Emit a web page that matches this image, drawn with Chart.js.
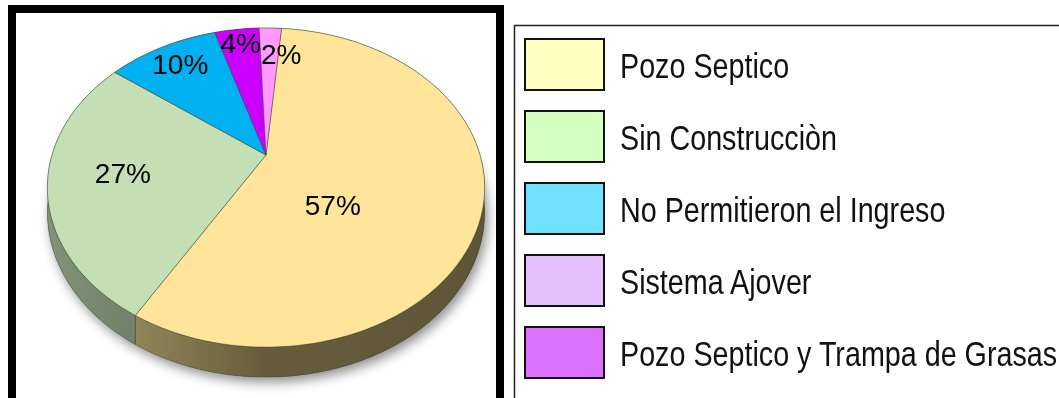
<!DOCTYPE html>
<html lang="es">
<head>
<meta charset="utf-8">
<title>Sistema de disposición de aguas residuales</title>
<script src="https://cdn.jsdelivr.net/npm/chart.js@4.4.1/dist/chart.umd.min.js"></script>
<style>
  html, body { margin: 0; padding: 0; background: #fff; overflow: hidden; }
  #wrap { position: relative; width: 1059px; height: 398px; overflow: hidden; background: #fff; }
  #pie { position: absolute; left: 0; top: 0; }
  #legend { position: absolute; left: 0; top: 0; width: 1059px; height: 398px; pointer-events: none; }
  .item { position: absolute; left: 524px; width: 700px; height: 53px; white-space: nowrap; }
  .swatch { position: absolute; left: 0; top: 0; width: 81px; height: 53px; box-sizing: border-box; border: 2px solid #111; }
  .text { position: absolute; left: 96px; top: 50%; font-size: 35px; line-height: 1; color: #111; transform-origin: left center; }
</style>
</head>
<body>
<div id="wrap">
  <canvas id="pie" width="1059" height="398"></canvas>
  <div id="legend"></div>
</div>
<script>
// ---- data ----
const categories = [
  'Pozo Septico',
  'Sin Construcciòn',
  'No Permitieron el Ingreso',
  'Sistema Ajover',
  'Pozo Septico y Trampa de Grasas'
];
const values = [57, 27, 10, 4, 2];
const sliceColors = ['#FEE599', '#C5DFB5', '#00B0F0', '#CC00FF', '#FF99FF'];
const legendColors = ['#FFFFC0', '#D2FFC0', '#70E0FF', '#E6C0FF', '#DC70FF'];

// ---- 3D view of the pie (tilt, perspective and rim height) ----
const VIEW = { tilt: 0.7145, persp: 0.204, depth: 30 };

function project(arc, angle, r = 1) {
  const u = Math.cos(angle) * r, v = Math.sin(angle) * r;
  const s = 1 / (1 - VIEW.persp * v);
  return {
    x: arc.x + arc.outerRadius * u * s,
    y: arc.y + arc.outerRadius * VIEW.tilt * v * s,
    v: v
  };
}
function rimDepth(v) {
  return VIEW.depth * (1 - VIEW.persp) / (1 - VIEW.persp * v);
}
function rimPoints(arc, a0, a1) {
  const n = Math.max(2, Math.ceil(Math.abs(a1 - a0) / (Math.PI / 180)));
  const pts = [];
  for (let i = 0; i <= n; i++) pts.push(project(arc, a0 + (a1 - a0) * i / n));
  return pts;
}
function shade(hex, f) {
  const n = parseInt(hex.slice(1), 16);
  const r = Math.round(((n >> 16) & 255) * f), g = Math.round(((n >> 8) & 255) * f), b = Math.round((n & 255) * f);
  return `rgb(${r},${g},${b})`;
}
function centroid(pts) {
  let A = 0, cx = 0, cy = 0;
  for (let i = 0; i < pts.length; i++) {
    const p = pts[i], q = pts[(i + 1) % pts.length];
    const c = p.x * q.y - q.x * p.y;
    A += c; cx += (p.x + q.x) * c; cy += (p.y + q.y) * c;
  }
  return { x: cx / (3 * A), y: cy / (3 * A) };
}

// Frame round the pie and box round the legend
const framePlugin = {
  id: 'frames',
  beforeDraw(chart) {
    const ctx = chart.ctx;
    ctx.save();
    ctx.strokeStyle = '#000';
    ctx.lineWidth = 8;
    ctx.strokeRect(12, 9, 488, 500);
    ctx.strokeStyle = '#222';
    ctx.lineWidth = 1.5;
    ctx.strokeRect(514.5, 25.5, 700, 500);
    ctx.restore();
  }
};

// Draws the pie's arcs as a tilted disc with a rim, plus the percentage labels
const pie3dPlugin = {
  id: 'pie3d',
  beforeDatasetsDraw(chart) {
    const ctx = chart.ctx;
    const meta = chart.getDatasetMeta(0);
    const arcs = meta.data;
    if (!arcs.length) return false;
    const first = arcs[0];
    const R = first.outerRadius;

    // base of the disc with its soft drop shadow
    ctx.save();
    ctx.shadowColor = 'rgba(0,0,0,0.45)';
    ctx.shadowBlur = 12;
    ctx.shadowOffsetX = 3;
    ctx.shadowOffsetY = 5;
    ctx.beginPath();
    rimPoints(first, 0, Math.PI * 2).forEach((p, i) => {
      const y = p.y + rimDepth(p.v);
      i ? ctx.lineTo(p.x, y) : ctx.moveTo(p.x, y);
    });
    ctx.closePath();
    ctx.fillStyle = '#5f5538';
    ctx.fill();
    ctx.restore();

    // rim walls
    arcs.forEach((arc) => {
      const base = arc.options.backgroundColor;
      const pts = rimPoints(arc, arc.startAngle, arc.endAngle);
      const g = ctx.createLinearGradient(arc.x - R * 1.03, 0, arc.x + R * 1.03, 0);
      g.addColorStop(0, shade(base, 0.66));
      g.addColorStop(0.2, shade(base, 0.58));
      g.addColorStop(0.5, shade(base, 0.40));
      g.addColorStop(1, shade(base, 0.37));
      ctx.beginPath();
      pts.forEach((p, k) => k ? ctx.lineTo(p.x, p.y) : ctx.moveTo(p.x, p.y));
      for (let k = pts.length - 1; k >= 0; k--) ctx.lineTo(pts[k].x, pts[k].y + rimDepth(pts[k].v));
      ctx.closePath();
      ctx.fillStyle = g;
      ctx.fill();
      ctx.strokeStyle = 'rgba(40,40,30,0.35)';
      ctx.lineWidth = 0.8;
      ctx.stroke();
    });

    // top faces
    const faces = arcs.map(arc => {
      const pts = [{ x: arc.x, y: arc.y }].concat(rimPoints(arc, arc.startAngle, arc.endAngle));
      ctx.beginPath();
      pts.forEach((p, k) => k ? ctx.lineTo(p.x, p.y) : ctx.moveTo(p.x, p.y));
      ctx.closePath();
      ctx.fillStyle = arc.options.backgroundColor;
      ctx.fill();
      ctx.strokeStyle = 'rgba(70,70,55,0.55)';
      ctx.lineWidth = 0.9;
      ctx.stroke();
      return pts;
    });

    // percentage labels: the big slice takes its label at the face's centre,
    // the others along their middle angle, further out the thinner they are
    const fontSize = 28;
    ctx.save();
    ctx.font = `${fontSize}px "Liberation Sans", Arial, sans-serif`;
    ctx.fillStyle = '#000';
    ctx.textAlign = 'center';
    ctx.textBaseline = 'middle';
    const placed = [];
    arcs.forEach((arc, i) => {
      const frac = (arc.endAngle - arc.startAngle) / (Math.PI * 2);
      const pos = frac > 0.5
        ? centroid(faces[i])
        : project(arc, (arc.startAngle + arc.endAngle) / 2, 0.88 - 0.8 * frac);
      const text = values[i] + '%';
      const w = ctx.measureText(text).width;
      let box = { x0: pos.x - w / 2, x1: pos.x + w / 2, y0: pos.y - fontSize / 2, y1: pos.y + fontSize / 2 };
      placed.forEach(b => {
        if (box.x0 < b.x1 && box.x1 > b.x0 && box.y0 < b.y1 && box.y1 > b.y0) {
          const dx = b.x1 - box.x0;
          const dy = fontSize * 0.5;
          box = { x0: box.x0 + dx, x1: box.x1 + dx, y0: box.y0 + dy, y1: box.y1 + dy };
        }
      });
      placed.push(box);
      ctx.fillText(text, (box.x0 + box.x1) / 2, (box.y0 + box.y1) / 2);
    });
    ctx.restore();
    return false;
  }
};

const chart = new Chart(document.getElementById('pie'), {
  type: 'pie',
  data: {
    labels: categories,
    datasets: [{
      data: values,
      backgroundColor: sliceColors,
      borderWidth: 0,
      radius: 214
    }]
  },
  options: {
    responsive: false,
    animation: false,
    events: [],
    rotation: 5,
    layout: { padding: { left: 0, right: 527, top: 0, bottom: 88 } },
    plugins: {
      legend: { display: false },
      tooltip: { enabled: false }
    }
  },
  plugins: [framePlugin, pie3dPlugin]
});

// ---- legend, built from the chart's labels ----
(function buildLegend() {
  const probe = document.createElement('canvas').getContext('2d');
  probe.font = '35px "Liberation Sans Narrow", monospace';
  const a = probe.measureText('Pozo Septico').width;
  probe.font = '35px monospace';
  const b = probe.measureText('Pozo Septico').width;
  const hasNarrow = Math.abs(a - b) > 0.5;

  const host = document.getElementById('legend');
  chart.data.labels.forEach((label, i) => {
    const item = document.createElement('div');
    item.className = 'item';
    item.style.top = (38 + 72 * i) + 'px';
    const sw = document.createElement('div');
    sw.className = 'swatch';
    sw.style.background = legendColors[i];
    const tx = document.createElement('div');
    tx.className = 'text';
    tx.textContent = label;
    if (hasNarrow) {
      tx.style.fontFamily = '"Liberation Sans Narrow", "Arial Narrow", sans-serif';
      tx.style.transform = 'translateY(-50%)';
    } else {
      tx.style.fontFamily = '"Liberation Sans", Arial, sans-serif';
      tx.style.transform = 'translateY(-50%) scaleX(0.82)';
    }
    item.appendChild(sw);
    item.appendChild(tx);
    host.appendChild(item);
  });
})();
</script>
</body>
</html>
